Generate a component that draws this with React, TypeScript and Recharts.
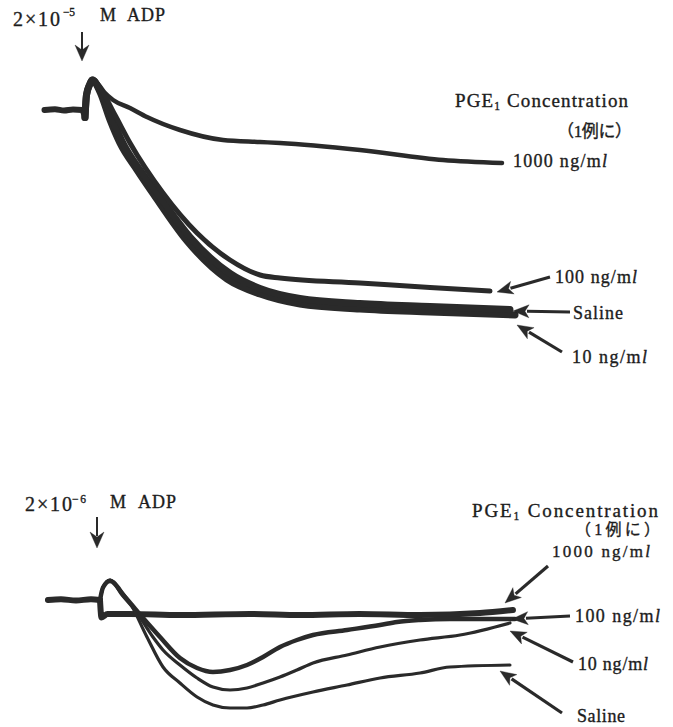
import React from "react";
import { LineChart, Line, XAxis, YAxis } from "recharts";

// ---- Data: time after ADP (s) vs. light-transmission deflection (arbitrary units, 0 = baseline) ----
// Upper panel: 2×10^-5 M ADP
const topBaseline = [
  { t: -27, v: 0 }, { t: -20, v: 0.3 }, { t: -14, v: -0.2 }, { t: -8, v: 0.2 }, { t: -2, v: 0 }, { t: 0, v: -3 },
];
const top1000 = [
  { t: 0, v: -3 }, { t: 1, v: 6 }, { t: 3, v: 10 }, { t: 5, v: 12 }, { t: 8.7, v: 10.4 }, { t: 13, v: 7 },
  { t: 18.7, v: 4 }, { t: 30, v: 0.8 }, { t: 41.3, v: -2.8 }, { t: 63.3, v: -8 }, { t: 92, v: -12 },
  { t: 116.7, v: -12.8 }, { t: 130, v: -13.2 }, { t: 183.3, v: -16 }, { t: 238.7, v: -20 }, { t: 278, v: -21.2 },
];
const top100 = [
  { t: 0, v: -3 }, { t: 1, v: 6 }, { t: 3, v: 10 }, { t: 5, v: 12 }, { t: 10, v: 8.8 }, { t: 20, v: -2 },
  { t: 30, v: -13.2 }, { t: 52, v: -33.2 }, { t: 74.7, v: -49.2 }, { t: 96.7, v: -60 }, { t: 116.7, v: -66 },
  { t: 130, v: -67.2 }, { t: 183.3, v: -69.2 }, { t: 230, v: -71 }, { t: 270, v: -72.4 },
];
const topSaline = [
  { t: 0, v: -3 }, { t: 1, v: 6 }, { t: 3, v: 10 }, { t: 5, v: 12 }, { t: 10, v: 8 }, { t: 18, v: -3.2 },
  { t: 25.3, v: -13.2 }, { t: 36.7, v: -24 }, { t: 48, v: -33.2 }, { t: 70, v: -50.8 }, { t: 96.7, v: -65.4 },
  { t: 116.7, v: -71.4 }, { t: 143.3, v: -75.4 }, { t: 183.3, v: -77.4 }, { t: 230, v: -78.6 }, { t: 283.3, v: -79.8 },
];
const top10 = [
  { t: 0, v: -3 }, { t: 1, v: 6 }, { t: 3, v: 10 }, { t: 5, v: 12 }, { t: 10, v: 7.2 }, { t: 16.7, v: -4 },
  { t: 23.3, v: -13.2 }, { t: 34.7, v: -24 }, { t: 46, v: -34 }, { t: 68, v: -52.4 }, { t: 94.7, v: -67.6 },
  { t: 116.7, v: -73.6 }, { t: 143.3, v: -77.6 }, { t: 183.3, v: -79.6 }, { t: 230, v: -80.8 }, { t: 286.7, v: -82 },
];

// Lower panel: 2×10^-6 M ADP
const botBaseline = [
  { t: -34.7, v: 0 }, { t: -26, v: 0.3 }, { t: -16, v: -0.2 }, { t: -6, v: 0.3 }, { t: 0, v: 0 },
];
const bot1000 = [
  { t: 0, v: 0 }, { t: 1, v: -7 }, { t: 5, v: -5.6 }, { t: 20, v: -5.6 }, { t: 53.3, v: -6 }, { t: 100, v: -5.6 },
  { t: 133.3, v: -6 }, { t: 173, v: -5.6 }, { t: 213.3, v: -6 }, { t: 253.3, v: -5.2 }, { t: 275.3, v: -4 },
];
const bot100 = [
  { t: 0, v: 0 }, { t: 2, v: 5 }, { t: 6.7, v: 7.6 }, { t: 16.7, v: 1.2 }, { t: 28.7, v: -7.2 }, { t: 40, v: -14.8 },
  { t: 53.3, v: -23.2 }, { t: 64.7, v: -27.2 }, { t: 75.3, v: -28.8 }, { t: 86.7, v: -28 }, { t: 98, v: -26 },
  { t: 108.7, v: -22.8 }, { t: 120, v: -18.8 }, { t: 131.3, v: -16 }, { t: 142, v: -14 }, { t: 164.7, v: -12 },
  { t: 186.7, v: -10 }, { t: 198, v: -8.8 }, { t: 213.3, v: -8 }, { t: 233.3, v: -7.6 }, { t: 276.7, v: -7.6 },
];
const bot10 = [
  { t: 0, v: 0 }, { t: 2, v: 5 }, { t: 6.7, v: 8 }, { t: 14.7, v: 2 }, { t: 24.7, v: -5.2 }, { t: 35.3, v: -14.8 },
  { t: 42, v: -20 }, { t: 53.3, v: -26 }, { t: 64.7, v: -31.2 }, { t: 75.3, v: -34.8 }, { t: 86.7, v: -36 },
  { t: 98, v: -35.2 }, { t: 108.7, v: -33.2 }, { t: 120, v: -30.8 }, { t: 131.3, v: -28 }, { t: 142, v: -25.2 },
  { t: 164.7, v: -22 }, { t: 186.7, v: -18.8 }, { t: 213.3, v: -16 }, { t: 240, v: -14 }, { t: 273.3, v: -9.2 },
];
const botSaline = [
  { t: 0, v: 0 }, { t: 2, v: 5 }, { t: 6.7, v: 8 }, { t: 13.3, v: 4 }, { t: 20, v: -1.2 }, { t: 31.3, v: -14.8 },
  { t: 42, v: -26.8 }, { t: 53.3, v: -33.2 }, { t: 64.7, v: -38.8 }, { t: 75.3, v: -42 }, { t: 86.7, v: -43.2 },
  { t: 98, v: -43.2 }, { t: 108.7, v: -42 }, { t: 120, v: -40 }, { t: 142, v: -36.8 }, { t: 164.7, v: -34 },
  { t: 186.7, v: -31.2 }, { t: 213.3, v: -29.2 }, { t: 233.3, v: -26.8 }, { t: 273.3, v: -26 },
];

const timeDomain = [-40, 290];
const topValueDomain = [-100, 20];
const botValueDomain = [-48, 20];

const INK = "#2a2a2a";
const TEXT = "#1c1c1c";
const FONT = "'Liberation Serif', 'Noto Sans CJK JP', serif";

function trace(key: string, data: any[], w: number) {
  return (
    <Line
      key={key}
      data={data}
      dataKey="v"
      type="monotone"
      stroke={INK}
      strokeWidth={w}
      strokeLinecap="round"
      strokeLinejoin="round"
      dot={false}
      activeDot={false}
      isAnimationActive={false}
    />
  );
}

function Arrow({ x1, y1, x2, y2, w = 3.2, head = 16, half = 6.5 }: any) {
  const dx = x2 - x1;
  const dy = y2 - y1;
  const len = Math.sqrt(dx * dx + dy * dy);
  const ux = dx / len;
  const uy = dy / len;
  const bx = x2 - ux * head;
  const by = y2 - uy * head;
  const px = -uy;
  const py = ux;
  return (
    <g>
      <line x1={x1} y1={y1} x2={bx + ux * 2} y2={by + uy * 2} stroke={INK} strokeWidth={w} />
      <polygon
        points={`${x2},${y2} ${bx + px * half},${by + py * half} ${bx + ux * 4},${by + uy * 4} ${bx - px * half},${by - py * half}`}
        fill={INK}
      />
    </g>
  );
}

function Conc({ x, y, w, size = 18, num }: any) {
  return (
    <text x={x} y={y} fontSize={size} textLength={w} lengthAdjust="spacing">
      {num} ng/m<tspan fontStyle="italic">l</tspan>
    </text>
  );
}

export default function App() {
  return (
    <div
      style={{
        position: "absolute",
        left: 0,
        top: 0,
        width: 673,
        height: 727,
        background: "#ffffff",
        overflow: "hidden",
      }}
    >
      <div style={{ position: "absolute", left: 0, top: 0 }}>
        <LineChart width={673} height={400} margin={{ top: 60, right: 153, bottom: 40, left: 25 }}>
          <XAxis type="number" dataKey="t" domain={timeDomain} hide allowDataOverflow />
          <YAxis type="number" domain={topValueDomain} hide allowDataOverflow />
          {trace("tb", topBaseline, 6)}
          {trace("t1000", top1000, 4.5)}
          {trace("t10", top10, 7)}
          {trace("tsal", topSaline, 7)}
          {trace("t100", top100, 5)}
        </LineChart>
      </div>
      <div style={{ position: "absolute", left: 0, top: 480 }}>
        <LineChart width={673} height={247} margin={{ top: 70, right: 138, bottom: 7, left: 40 }}>
          <XAxis type="number" dataKey="t" domain={timeDomain} hide allowDataOverflow />
          <YAxis type="number" domain={botValueDomain} hide allowDataOverflow />
          {trace("bb", botBaseline, 6)}
          {trace("b1000", bot1000, 6)}
          {trace("b100", bot100, 4.5)}
          {trace("b10", bot10, 3.2)}
          {trace("bsal", botSaline, 3.2)}
        </LineChart>
      </div>
      <svg
        width={673}
        height={727}
        style={{ position: "absolute", left: 0, top: 0, pointerEvents: "none" }}
        fontFamily={FONT}
        fill={TEXT}
        stroke={TEXT}
        strokeWidth={0.35}
      >
        {/* upper panel header */}
        <text x={13} y={26} fontSize={20} textLength={47} lengthAdjust="spacing">2×10</text>
        <text x={63} y={16} fontSize={11.5} textLength={12} lengthAdjust="spacing">−5</text>
        <text x={100} y={21} fontSize={18}>M</text>
        <text x={127} y={21} fontSize={18} textLength={38} lengthAdjust="spacing">ADP</text>
        <line x1={82} y1={32} x2={82} y2={50} stroke={INK} strokeWidth={2} />
        <polygon points="75,45 82,50 89,45 82,61" fill={INK} />

        {/* upper panel legend */}
        <text x={455} y={107} fontSize={19} textLength={173} lengthAdjust="spacing">
          PGE<tspan fontSize={11.5} dy={3}>1</tspan><tspan dy={-3}> Concentration</tspan>
        </text>
        <text x={557} y={137} fontSize={17} textLength={75} lengthAdjust="spacing">（1例に）</text>
        <Conc x={513} y={167} w={94} num="1000" />
        <Conc x={555} y={283} w={82} num="100" />
        <text x={573} y={319} fontSize={18} textLength={50} lengthAdjust="spacing">Saline</text>
        <Conc x={572} y={363} w={75} num="10" />
        <Arrow x1={550} y1={277} x2={497} y2={292} />
        <Arrow x1={570} y1={312} x2={513} y2={311} />
        <Arrow x1={562} y1={352} x2={517} y2={325} />

        {/* lower panel header */}
        <text x={25} y={511} fontSize={20} textLength={47} lengthAdjust="spacing">2×10</text>
        <text x={72} y={503} fontSize={11.5} textLength={14} lengthAdjust="spacing">−6</text>
        <text x={110} y={508} fontSize={18}>M</text>
        <text x={138} y={508} fontSize={18} textLength={38} lengthAdjust="spacing">ADP</text>
        <line x1={97} y1={517} x2={97} y2={536} stroke={INK} strokeWidth={2} />
        <polygon points="90,532 97,537 104,532 97,548" fill={INK} />

        {/* lower panel legend */}
        <text x={472} y={517} fontSize={19} textLength={186} lengthAdjust="spacing">
          PGE<tspan fontSize={11.5} dy={3}>1</tspan><tspan dy={-3}> Concentration</tspan>
        </text>
        <text x={575} y={535} fontSize={16} textLength={85} lengthAdjust="spacing">（1例に）</text>
        <Conc x={552} y={557} w={98} size={17} num="1000" />
        <Conc x={575} y={622} w={85} num="100" />
        <Conc x={578} y={670} w={70} num="10" />
        <text x={577} y={722} fontSize={18} textLength={48} lengthAdjust="spacing">Saline</text>
        <Arrow x1={548} y1={566} x2={505} y2={603} />
        <Arrow x1={570} y1={616} x2={512} y2={619} />
        <Arrow x1={573} y1={662} x2={510} y2={631} />
        <Arrow x1={562} y1={713} x2={500} y2={671} />
      </svg>
    </div>
  );
}
